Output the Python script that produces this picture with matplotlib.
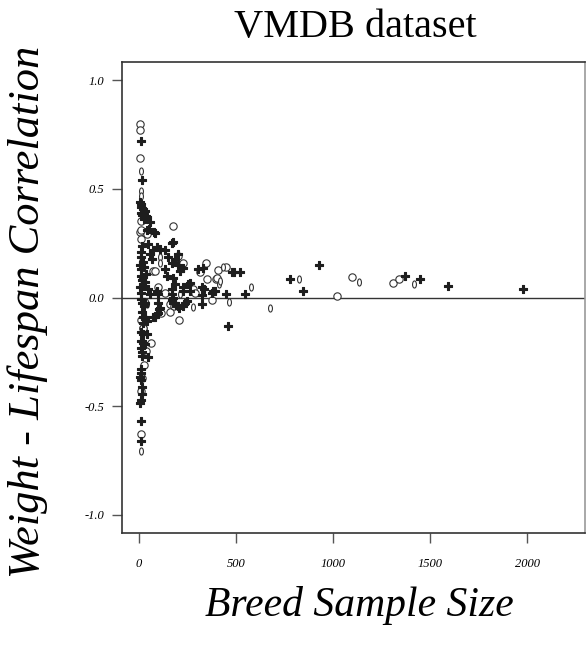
import numpy as np
import matplotlib.pyplot as plt
from matplotlib.path import Path

# breed sample size / weight-lifespan correlation, three breed groups
open_x = [5, 5, 5, 8, 175, 3, 8, 72, 345, 408, 450, 350, 398, 280, 41, 10, 228, 83, 98, 134,
          315, 109, 160, 207, 377, 15, 20, 62, 36, 26, 15, 8, 10, 290, 160, 181, 114, 8, 20,
          1018, 1096, 1307, 1340, 403, 200]
open_y = [0.80, 0.77, 0.64, 0.35, 0.33, 0.30, 0.27, 0.12, 0.16, 0.125, 0.14, 0.083, 0.083, 0.037,
          0.29, 0.31, 0.16, 0.12, 0.046, 0.023, 0.115, -0.065, -0.065, -0.105, -0.01, -0.105,
          -0.14, -0.21, -0.245, -0.31, -0.37, -0.43, -0.63, 0.023, -0.03, -0.04, -0.07, -0.105,
          -0.14, 0.005, 0.095, 0.065, 0.083, 0.09, 0.19]

zero_x = [8, 8, 10, 109, 109, 434, 212, 41, 280, 465, 677, 36, 413, 579, 827, 1132, 1416, 8,
          419, 8, 8]
zero_y = [0.58, 0.49, 0.465, 0.185, 0.16, 0.14, 0.014, -0.03, -0.045, -0.02, -0.05, -0.02, 0.06,
          0.05, 0.083, 0.07, 0.06, -0.705, 0.074, 0.165, 0.09]

filled_x = [10, 15, 3, 8, 10, 20, 31, 8, 15, 36, 25, 41, 57, 41, 77, 52, 83, 170, 175, 46, 15,
            93, 109, 134, 72, 57, 67, 150, 200, 186, 200, 170, 228, 212, 134, 145, 305, 330,
            481, 491, 522, 264, 175, 186, 170, 228, 253, 264, 31, 46, 57, 326, 336, 383, 393,
            450, 548, 326, 780, 843, 930, 1370, 1447, 1592, 1980,
            8, 10, 5, 10, 8, 15, 5, 10, 20, 25, 36, 20, 93, 98, 170, 175, 228, 377,
            31, 98, 109, 170, 175, 200, 238, 248, 326, 186, 103, 207, 228, 460,
            8, 15, 25, 15, 31, 41, 20, 72, 93, 98, 83, 20, 31,
            8, 20, 41, 8, 20, 31, 8, 15, 15, 46, 8, 10, 5, 15, 8, 15, 8, 3, 8, 8]
filled_y = [0.72, 0.54, 0.44, 0.43, 0.415, 0.405, 0.40, 0.39, 0.38, 0.375, 0.36, 0.37, 0.345,
            0.31, 0.30, 0.315, 0.295, 0.25, 0.255, 0.245, 0.235, 0.23, 0.225, 0.22, 0.22, 0.20,
            0.175, 0.185, 0.20, 0.175, 0.15, 0.16, 0.135, 0.12, 0.13, 0.10, 0.13, 0.135, 0.115,
            0.115, 0.115, 0.065, 0.09, 0.06, 0.037, 0.05, 0.06, 0.028, 0.07, 0.037, 0.014,
            0.046, 0.037, 0.028, 0.028, 0.014, 0.018, 0.01, 0.083, 0.03, 0.15, 0.097, 0.083,
            0.055, 0.037,
            0.21, 0.185, 0.15, 0.13, 0.10, 0.08, 0.05, 0.023, 0.165, 0.14, 0.11, 0.055, 0.028,
            0.014, 0.014, 0.0, 0.028, 0.023,
            -0.023, -0.023, -0.046, -0.01, -0.023, -0.04, -0.023, -0.018, -0.03, -0.023, -0.055,
            -0.05, -0.04, -0.13,
            -0.005, -0.023, -0.04, -0.065, -0.088, -0.11, -0.088, -0.088, -0.078, -0.07, -0.088,
            -0.115, -0.10,
            -0.16, -0.17, -0.17, -0.20, -0.21, -0.215, -0.23, -0.25, -0.27, -0.275, -0.33,
            -0.345, -0.365, -0.41, -0.38, -0.445, -0.47, -0.485, -0.57, -0.66]

xticks = [0, 500, 1000, 1500, 2000]
yticks = [-1.0, -0.5, 0.0, 0.5, 1.0]

serif = ['Liberation Serif', 'DejaVu Serif']

# narrow open ellipse marker (looks like a little "0")
t = np.linspace(0, 2 * np.pi, 40)
narrow = Path(np.column_stack([0.55 * np.cos(t), np.sin(t)]), closed=True)

fig = plt.figure(figsize=(5.86, 6.55), dpi=100)
ax = fig.add_axes([0.2082, 0.1863, 0.7901, 0.7190])

ax.axhline(0, color='#333333', lw=1.0, zorder=1)
ax.scatter(open_x, open_y, s=28, facecolors='white', edgecolors='#333333', linewidths=0.8, zorder=3)
ax.scatter(zero_x, zero_y, s=26, marker=narrow, facecolors='white', edgecolors='#333333',
           linewidths=0.8, zorder=3)
ax.scatter(filled_x, filled_y, s=38, marker='P', color='#1e1e1e', edgecolors='#1e1e1e',
           linewidths=0.8, zorder=4)

ax.set_xlim(-88, 2299)
ax.set_ylim(-1.083, 1.083)
ax.set_xticks(xticks)
ax.set_xticklabels([str(v) for v in xticks])
ax.set_yticks(yticks)
ax.set_yticklabels(['%.1f' % v for v in yticks])
ax.tick_params(direction='out', length=7, width=1, color='#555555', pad=6)
ax.tick_params(axis='x', pad=11)
for lab in ax.get_xticklabels() + ax.get_yticklabels():
    lab.set_family(serif)
    lab.set_style('italic')
    lab.set_fontsize(9)
for sp in ax.spines.values():
    sp.set_color('#333333')
    sp.set_linewidth(1.2)
ax.spines['right'].set_color('#999999')

fig.text(0.606, 0.943, 'VMDB dataset', family=serif, fontsize=29, ha='center', va='baseline')
fig.text(0.613, 0.075, 'Breed Sample Size', family=serif, style='italic', fontsize=30,
         ha='center', va='center')
fig.text(0.048, 0.524, 'Weight - Lifespan Correlation', family=serif, style='italic',
         fontsize=32, rotation=90, ha='center', va='center')

fig.savefig('out.png', dpi=100)
